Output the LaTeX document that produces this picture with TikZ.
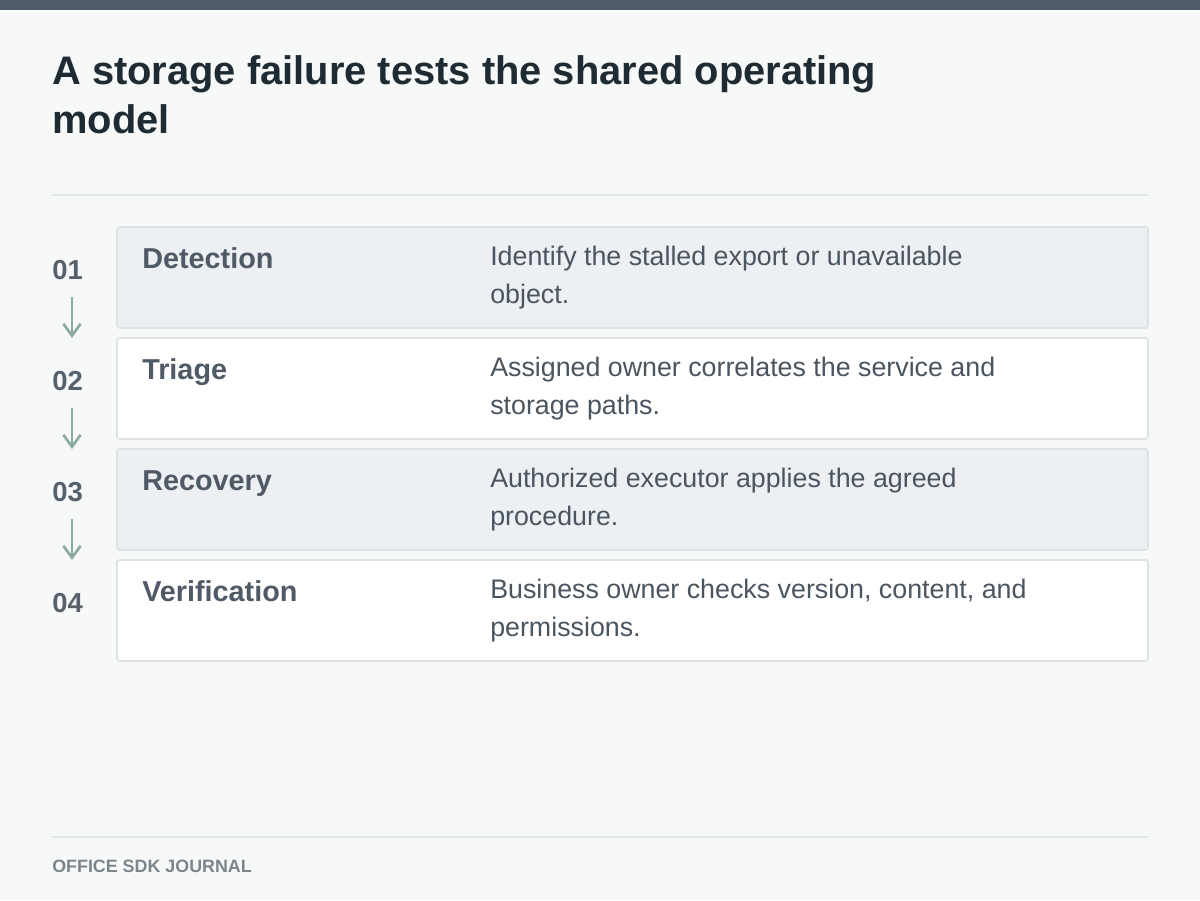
\documentclass[tikz,border=0pt]{standalone}
\usepackage{fontspec}
\setmainfont{Liberation Sans}
\usetikzlibrary{arrows.meta}
\definecolor{bg}{HTML}{F7F9F9}
\definecolor{topbar}{HTML}{4F5B67}
\definecolor{titlec}{HTML}{1F2B33}
\definecolor{rule}{HTML}{E3E7E8}
\definecolor{rowgray}{HTML}{EDF0F2}
\definecolor{rowborder}{HTML}{DDE3E5}
\definecolor{labelc}{HTML}{4F5A66}
\definecolor{bodyc}{HTML}{4A5560}
\definecolor{numc}{HTML}{56616C}
\definecolor{arrowc}{HTML}{8FAB9F}
\definecolor{footc}{HTML}{7B868C}
\tikzset{
  rowbox/.style={draw=rowborder, line width=1.2pt, rounded corners=2pt},
  graybox/.style={rowbox, fill=rowgray},
  whitebox/.style={rowbox, fill=white},
  titletext/.style={anchor=base west, inner sep=0pt, text=titlec, font=\fontsize{29.9pt}{36pt}\selectfont\bfseries},
  labeltext/.style={anchor=base west, inner sep=0pt, text=labelc, font=\fontsize{21.6pt}{25pt}\selectfont\bfseries},
  bodytext/.style={anchor=base west, inner sep=0pt, text=bodyc, font=\fontsize{20.1pt}{28.5pt}\selectfont},
  numtext/.style={anchor=base west, inner sep=0pt, text=numc, font=\fontsize{20.6pt}{24pt}\selectfont\bfseries},
  flow/.style={draw=arrowc, line width=2pt, -{Straight Barb[length=9pt, width=13pt, line width=2pt]}},
  foottext/.style={anchor=base west, inner sep=0pt, text=footc, font=\fontsize{13.4pt}{16pt}\selectfont\bfseries},
}
\begin{document}
\begin{tikzpicture}[x=0.75pt, y=-0.75pt]
\useasboundingbox (0,0) rectangle (1200,900);
\fill[bg] (0,0) rectangle (1200,900);
\fill[topbar] (0,0) rectangle (1200,10);
\node[titletext] (title1) at (52,84) {A storage failure tests the shared operating};
\node[titletext] (title2) at (52,133) {model};
\draw[rule, line width=1.5pt] (52,195) -- (1148,195);
% rows
\draw[graybox] (117,227) rectangle (1148,328);
\draw[whitebox] (117,338) rectangle (1148,439);
\draw[graybox] (117,449) rectangle (1148,550);
\draw[whitebox] (117,560) rectangle (1148,661);
% labels
\node[labeltext] (l1) at (142,268) {Detection};
\node[labeltext] (l2) at (142,379) {Triage};
\node[labeltext] (l3) at (142,490) {Recovery};
\node[labeltext] (l4) at (142,601) {Verification};
% descriptions
\node[bodytext] (d1a) at (490,265) {Identify the stalled export or unavailable};
\node[bodytext] (d1b) at (490,303) {object.};
\node[bodytext] (d2a) at (490,376) {Assigned owner correlates the service and};
\node[bodytext] (d2b) at (490,414) {storage paths.};
\node[bodytext] (d3a) at (490,487) {Authorized executor applies the agreed};
\node[bodytext] (d3b) at (490,525) {procedure.};
\node[bodytext] (d4a) at (490,598) {Business owner checks version, content, and};
\node[bodytext] (d4b) at (490,636) {permissions.};
% numbers
\node[numtext] (n1) at (52,279) {01};
\node[numtext] (n2) at (52,390) {02};
\node[numtext] (n3) at (52,501) {03};
\node[numtext] (n4) at (52,612) {04};
% arrows
\coordinate (a1s) at (72,297);
\coordinate (a1e) at (72,338);
\coordinate (a2s) at (72,408);
\coordinate (a2e) at (72,449);
\coordinate (a3s) at (72,519);
\coordinate (a3e) at (72,560);
\draw[flow] (a1s) -- (a1e);
\draw[flow] (a2s) -- (a2e);
\draw[flow] (a3s) -- (a3e);
% footer
\draw[rule, line width=1.5pt] (52,837) -- (1148,837);
\node[foottext] (foot) at (52,872) {OFFICE SDK JOURNAL};
\end{tikzpicture}
\end{document}
